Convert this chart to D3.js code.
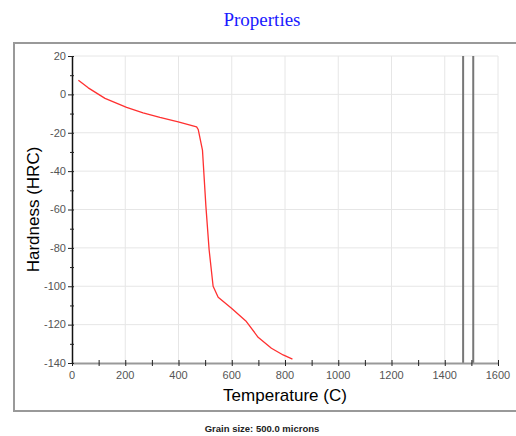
<!DOCTYPE html>
<html>
<head>
<meta charset="utf-8">
<script src="https://cdn.jsdelivr.net/npm/d3@7"></script>
<style>
  body { margin: 0; background: #fff; }
  svg { display: block; }
</style>
</head>
<body>
<div id="chart"></div>
<script>
const width = 516;
const height = 436;

// Hardness curve
const temperature = [24, 61, 124, 205, 267, 330, 399, 468, 474, 490, 503, 515, 530, 549, 599, 655, 699, 749, 793, 828];
const hardness = [7.4, 3.4, -2.1, -6.8, -9.6, -12, -14.3, -16.9, -18.3, -29, -58.5, -81, -100, -105.7, -111.5, -118.4, -126.6, -132.3, -135.8, -138];

// Solidus / liquidus markers
const markers = [1469, 1507];

const xTicks = [0, 200, 400, 600, 800, 1000, 1200, 1400, 1600];
const yTicks = [20, 0, -20, -40, -60, -80, -100, -120, -140];

const margin = { top: 56, right: 18, bottom: 73, left: 72 };

const x = d3.scaleLinear().domain([0, 1600]).range([margin.left, width - margin.right]);
const y = d3.scaleLinear().domain([-140, 20]).range([height - margin.bottom, margin.top]);

const svg = d3.select("#chart")
    .append("svg")
    .attr("width", width)
    .attr("height", height)
    .attr("viewBox", [0, 0, width, height]);

// Frame around the plot
svg.append("rect")
    .attr("x", 14).attr("y", 43)
    .attr("width", 510).attr("height", 368)
    .attr("fill", "none")
    .attr("stroke", "#999")
    .attr("stroke-width", 2);

// Title
svg.append("text")
    .attr("x", 262).attr("y", 26)
    .attr("text-anchor", "middle")
    .attr("font-family", "Liberation Serif, Times New Roman, serif")
    .attr("font-size", 19)
    .attr("fill", "#1a1aff")
    .text("Properties");

// Grid
const grid = svg.append("g").attr("stroke", "#e6e6e6").attr("stroke-width", 1);
grid.selectAll("line.v")
    .data(xTicks.slice(1))
    .join("line")
    .attr("x1", d => x(d)).attr("x2", d => x(d))
    .attr("y1", y(20)).attr("y2", y(-140));
grid.selectAll("line.h")
    .data(yTicks.slice(0, -1))
    .join("line")
    .attr("class", "h")
    .attr("x1", x(0)).attr("x2", x(1600))
    .attr("y1", d => y(d)).attr("y2", d => y(d));

// Marker lines
svg.append("g")
    .selectAll("line")
    .data(markers)
    .join("line")
    .attr("x1", d => x(d)).attr("x2", d => x(d))
    .attr("y1", y(20)).attr("y2", y(-140))
    .attr("stroke", "#777")
    .attr("stroke-width", 2);

// X axis
const xAxis = svg.append("g")
    .attr("transform", `translate(0,${y(-140)})`);
xAxis.call(d3.axisBottom(x).tickValues(d3.range(0, 1601, 100)).tickSize(0).tickFormat(""))
    .call(g => g.select(".domain").attr("stroke", "#999").attr("stroke-width", 2));
xAxis.selectAll(".tick line")
    .attr("y1", -3).attr("y2", 3)
    .attr("stroke", "#222");
xAxis.selectAll(".tick text").remove();
xAxis.selectAll("text.lbl")
    .data(xTicks)
    .join("text")
    .attr("class", "lbl")
    .attr("x", d => x(d))
    .attr("y", 16)
    .attr("text-anchor", "middle")
    .attr("font-family", "Liberation Sans, Arial, sans-serif")
    .attr("font-size", 11)
    .attr("fill", "#555")
    .text(d => d);

// Y axis
const yAxis = svg.append("g")
    .attr("transform", `translate(${x(0)},0)`);
yAxis.call(d3.axisLeft(y).tickValues(d3.range(-140, 21, 10)).tickSize(0).tickFormat(""))
    .call(g => g.select(".domain").attr("stroke", "#111").attr("stroke-width", 1.5));
yAxis.selectAll(".tick line")
    .attr("x1", d => d % 20 === 0 ? -4 : -2)
    .attr("x2", 2)
    .attr("stroke", "#222");
yAxis.selectAll(".tick text").remove();
yAxis.selectAll("text.lbl")
    .data(yTicks)
    .join("text")
    .attr("class", "lbl")
    .attr("x", -6)
    .attr("y", d => y(d))
    .attr("dy", "0.35em")
    .attr("text-anchor", "end")
    .attr("font-family", "Liberation Sans, Arial, sans-serif")
    .attr("font-size", 11)
    .attr("fill", "#555")
    .text(d => d);

// Curve
svg.append("path")
    .datum(hardness)
    .attr("fill", "none")
    .attr("stroke", "#ff3030")
    .attr("stroke-width", 1.3)
    .attr("stroke-linejoin", "round")
    .attr("d", d3.line().x((d, i) => x(temperature[i])).y(d => y(d)));

// Axis titles
svg.append("text")
    .attr("x", 285).attr("y", 401)
    .attr("text-anchor", "middle")
    .attr("font-family", "Liberation Sans, Arial, sans-serif")
    .attr("font-size", 17)
    .attr("fill", "#000")
    .text("Temperature (C)");

svg.append("text")
    .attr("transform", `translate(39,${(y(20) + y(-140)) / 2}) rotate(-90)`)
    .attr("text-anchor", "middle")
    .attr("font-family", "Liberation Sans, Arial, sans-serif")
    .attr("font-size", 17)
    .attr("fill", "#000")
    .text("Hardness (HRC)");

// Footer
svg.append("text")
    .attr("x", 262).attr("y", 432)
    .attr("text-anchor", "middle")
    .attr("font-family", "Liberation Sans, Arial, sans-serif")
    .attr("font-size", 9.5)
    .attr("font-weight", "bold")
    .attr("fill", "#222")
    .text("Grain size: 500.0 microns");
</script>
</body>
</html>
